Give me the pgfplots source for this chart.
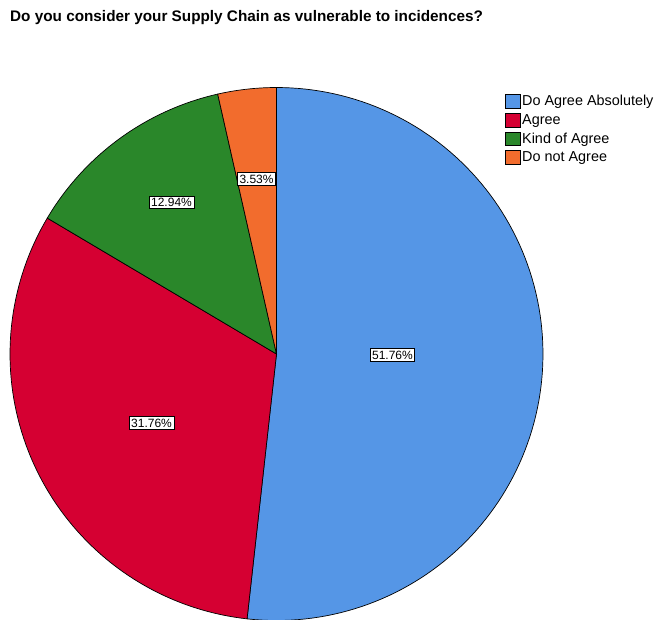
\documentclass[border=0pt]{standalone}
\usepackage{pgfplots}
\pgfplotsset{compat=1.18}
\usepackage{fontspec}
\setmainfont{Liberation Sans}
\definecolor{cblue}{RGB}{85,150,230}
\definecolor{cred}{RGB}{213,0,50}
\definecolor{cgreen}{RGB}{42,135,42}
\definecolor{corange}{RGB}{242,108,45}
\begin{document}
\begin{tikzpicture}[x=1pt,y=1pt]
\path[use as bounding box] (0,0) rectangle (656,-619);
\node[anchor=west,font=\fontsize{15.3}{17}\selectfont\bfseries,inner sep=0pt] at (10,-18) {Do you consider your Supply Chain as vulnerable to incidences?};
\begin{axis}[
  at={(276.5pt,-354pt)}, anchor=center,
  scale only axis, width=533pt, height=533pt,
  xmin=-1, xmax=1, ymin=-1, ymax=1,
  hide axis, clip=false,
  legend style={at={(axis cs:0.857,0.979)}, anchor=north west, draw=none, fill=none,
    font=\fontsize{14.4}{15.5}\selectfont, row sep=3pt, inner sep=0pt,
    cells={anchor=west}},
  legend image code/.code={\draw[#1,draw=black,line width=0.6pt] (0pt,-7pt) rectangle (14.5pt,6.5pt);},
]
% pie slices (percent): 51.76, 31.76, 12.94, 3.53 ; clockwise from top
\addplot[fill=cblue, draw=black, line width=0.7pt, domain=90:-96.34, samples=120, variable=\t] ({cos(\t)},{sin(\t)}) -- (axis cs:0,0) -- cycle;
\addlegendentry{Do Agree Absolutely}
\addplot[fill=cred, draw=black, line width=0.7pt, domain=-96.34:-210.67, samples=80, variable=\t] ({cos(\t)},{sin(\t)}) -- (axis cs:0,0) -- cycle;
\addlegendentry{Agree}
\addplot[fill=cgreen, draw=black, line width=0.7pt, domain=-210.67:-257.25, samples=40, variable=\t] ({cos(\t)},{sin(\t)}) -- (axis cs:0,0) -- cycle;
\addlegendentry{Kind of Agree}
\addplot[fill=corange, draw=black, line width=0.7pt, domain=-257.25:-270, samples=15, variable=\t] ({cos(\t)},{sin(\t)}) -- (axis cs:0,0) -- cycle;
\addlegendentry{Do not Agree}
\tikzset{lbl/.style={fill=white, draw=black, line width=0.7pt, inner sep=2pt, font=\fontsize{12}{13}\selectfont}}
\node[lbl] at (axis cs:0.435,-0.004) {51.76\%};
\node[lbl] at (axis cs:-0.469,-0.259) {31.76\%};
\node[lbl] at (axis cs:-0.394,0.570) {12.94\%};
\node[lbl] at (axis cs:-0.075,0.657) {3.53\%};
\end{axis}
\end{tikzpicture}
\end{document}
